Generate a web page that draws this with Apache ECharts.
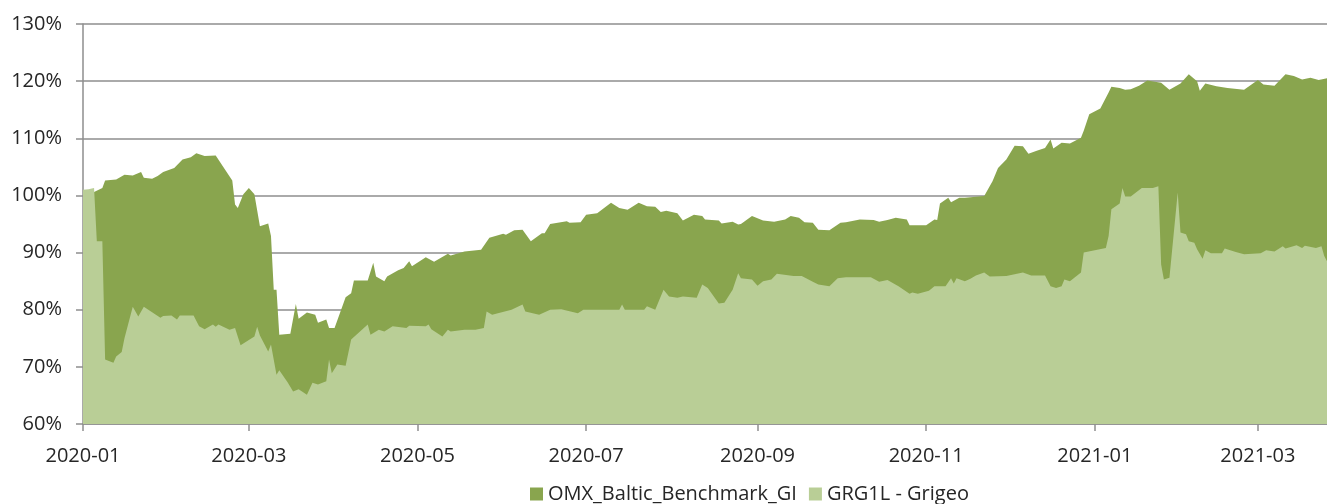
<!DOCTYPE html>
<html>
<head>
<meta charset="utf-8">
<script src="https://cdn.jsdelivr.net/npm/echarts@6/dist/echarts.min.js"></script>
<style>
html,body{margin:0;padding:0;background:#fff;}
#chart{width:1327px;height:504px;}
</style>
</head>
<body>
<div id="chart"></div>
<script>
const seriesNames = ['OMX_Baltic_Benchmark_GI', 'GRG1L - Grigeo'];

const omxDates = ['2020-01-01','2020-01-05','2020-01-08','2020-01-09','2020-01-13','2020-01-16','2020-01-19','2020-01-22','2020-01-23','2020-01-26','2020-01-28','2020-01-30','2020-02-03','2020-02-06','2020-02-09','2020-02-11','2020-02-14','2020-02-18','2020-02-24','2020-02-25','2020-02-26','2020-02-28','2020-03-01','2020-03-03','2020-03-05','2020-03-08','2020-03-09','2020-03-10','2020-03-11','2020-03-12','2020-03-16','2020-03-18','2020-03-19','2020-03-22','2020-03-25','2020-03-26','2020-03-29','2020-03-30','2020-04-01','2020-04-05','2020-04-07','2020-04-08','2020-04-13','2020-04-15','2020-04-16','2020-04-19','2020-04-20','2020-04-24','2020-04-26','2020-04-28','2020-04-29','2020-05-04','2020-05-07','2020-05-12','2020-05-13','2020-05-18','2020-05-24','2020-05-27','2020-06-01','2020-06-02','2020-06-05','2020-06-08','2020-06-11','2020-06-15','2020-06-16','2020-06-18','2020-06-24','2020-06-25','2020-06-29','2020-07-01','2020-07-05','2020-07-10','2020-07-13','2020-07-16','2020-07-20','2020-07-23','2020-07-26','2020-07-28','2020-07-30','2020-08-03','2020-08-05','2020-08-09','2020-08-12','2020-08-13','2020-08-18','2020-08-19','2020-08-23','2020-08-25','2020-08-26','2020-08-30','2020-09-03','2020-09-07','2020-09-11','2020-09-13','2020-09-16','2020-09-18','2020-09-21','2020-09-23','2020-09-27','2020-10-01','2020-10-03','2020-10-08','2020-10-13','2020-10-15','2020-10-18','2020-10-21','2020-10-25','2020-10-26','2020-11-01','2020-11-04','2020-11-05','2020-11-06','2020-11-09','2020-11-10','2020-11-13','2020-11-15','2020-11-22','2020-11-25','2020-11-27','2020-11-30','2020-12-03','2020-12-06','2020-12-08','2020-12-11','2020-12-14','2020-12-16','2020-12-17','2020-12-20','2020-12-23','2020-12-27','2020-12-28','2020-12-30','2021-01-03','2021-01-06','2021-01-07','2021-01-10','2021-01-12','2021-01-14','2021-01-17','2021-01-20','2021-01-25','2021-01-28','2021-02-01','2021-02-04','2021-02-07','2021-02-08','2021-02-10','2021-02-14','2021-02-18','2021-02-24','2021-03-01','2021-03-03','2021-03-07','2021-03-11','2021-03-14','2021-03-17','2021-03-20','2021-03-23','2021-03-26'];
const omxValues = [100.0,100.6,101.3,102.6,102.8,103.6,103.5,104.1,103.1,102.9,103.4,104.1,104.8,106.3,106.7,107.4,106.9,107.0,102.6,98.4,97.8,100.2,101.3,100.2,94.6,95.1,92.9,83.5,83.5,75.6,75.8,81.0,78.4,79.5,79.1,77.7,78.3,76.8,76.8,82.2,82.9,85.1,85.1,88.2,85.8,85.0,85.8,86.9,87.3,88.5,87.6,89.2,88.4,89.8,89.5,90.2,90.5,92.6,93.3,93.1,93.9,94.0,92.0,93.4,93.4,95.0,95.5,95.2,95.3,96.6,96.9,98.7,97.8,97.5,98.7,98.1,98.0,97.1,97.3,96.9,95.6,96.6,96.4,95.8,95.6,95.1,95.4,94.9,95.0,96.4,95.6,95.4,95.8,96.4,96.1,95.3,95.2,94.0,93.9,95.2,95.3,95.8,95.7,95.4,95.7,96.1,95.8,94.8,94.8,95.8,95.7,98.6,99.6,98.8,99.6,99.6,99.9,102.5,104.8,106.3,108.7,108.6,107.3,107.8,108.3,109.8,108.2,109.2,109.1,110.1,111.3,114.2,115.2,118.0,119.0,118.8,118.5,118.6,119.2,120.1,119.7,118.5,119.6,121.2,120.0,118.3,119.6,119.1,118.8,118.5,120.2,119.4,119.2,121.2,120.9,120.3,120.6,120.2,120.5];

const grgDates = ['2020-01-01','2020-01-03','2020-01-05','2020-01-06','2020-01-08','2020-01-09','2020-01-12','2020-01-13','2020-01-15','2020-01-16','2020-01-19','2020-01-21','2020-01-23','2020-01-29','2020-01-30','2020-02-02','2020-02-04','2020-02-05','2020-02-10','2020-02-12','2020-02-14','2020-02-17','2020-02-18','2020-02-19','2020-02-23','2020-02-25','2020-02-27','2020-03-01','2020-03-03','2020-03-04','2020-03-05','2020-03-08','2020-03-09','2020-03-11','2020-03-12','2020-03-15','2020-03-17','2020-03-19','2020-03-22','2020-03-24','2020-03-26','2020-03-29','2020-03-30','2020-03-31','2020-04-02','2020-04-05','2020-04-07','2020-04-13','2020-04-14','2020-04-17','2020-04-19','2020-04-22','2020-04-27','2020-04-28','2020-05-04','2020-05-05','2020-05-06','2020-05-10','2020-05-12','2020-05-13','2020-05-18','2020-05-22','2020-05-25','2020-05-26','2020-05-28','2020-06-04','2020-06-08','2020-06-09','2020-06-14','2020-06-18','2020-06-22','2020-06-28','2020-06-30','2020-07-13','2020-07-14','2020-07-15','2020-07-22','2020-07-23','2020-07-26','2020-07-29','2020-07-31','2020-08-03','2020-08-05','2020-08-10','2020-08-12','2020-08-14','2020-08-18','2020-08-20','2020-08-23','2020-08-25','2020-08-26','2020-08-30','2020-09-01','2020-09-03','2020-09-06','2020-09-08','2020-09-14','2020-09-17','2020-09-21','2020-09-23','2020-09-27','2020-09-30','2020-10-03','2020-10-12','2020-10-15','2020-10-18','2020-10-22','2020-10-26','2020-10-27','2020-10-29','2020-11-02','2020-11-04','2020-11-08','2020-11-10','2020-11-11','2020-11-12','2020-11-15','2020-11-17','2020-11-19','2020-11-22','2020-11-24','2020-11-30','2020-12-06','2020-12-09','2020-12-14','2020-12-16','2020-12-18','2020-12-20','2020-12-21','2020-12-23','2020-12-27','2020-12-28','2021-01-05','2021-01-06','2021-01-07','2021-01-10','2021-01-11','2021-01-12','2021-01-14','2021-01-18','2021-01-22','2021-01-24','2021-01-25','2021-01-26','2021-01-28','2021-01-31','2021-02-01','2021-02-03','2021-02-04','2021-02-06','2021-02-07','2021-02-09','2021-02-10','2021-02-12','2021-02-16','2021-02-17','2021-02-21','2021-02-24','2021-03-02','2021-03-04','2021-03-07','2021-03-10','2021-03-11','2021-03-15','2021-03-17','2021-03-18','2021-03-22','2021-03-24','2021-03-25','2021-03-26'];
const grgValues = [101.0,101.1,101.3,92.0,92.0,71.3,70.7,71.8,72.6,75.0,80.5,78.8,80.5,78.6,78.9,79.0,78.3,79.0,79.0,77.1,76.6,77.4,77.0,77.4,76.5,76.8,73.8,74.7,75.3,77.0,75.5,72.7,73.9,68.6,69.4,67.3,65.7,66.1,65.1,67.2,66.9,67.5,71.3,68.9,70.4,70.2,74.8,77.4,75.6,76.5,76.2,77.1,76.8,77.2,77.1,77.4,76.6,75.3,76.5,76.2,76.5,76.5,76.8,79.7,79.1,80.0,80.9,79.7,79.1,80.0,80.1,79.4,80.0,80.0,80.9,80.0,80.0,80.6,80.0,83.5,82.3,82.1,82.3,82.1,84.4,83.8,81.1,81.2,83.5,86.4,85.5,85.3,84.2,85.0,85.3,86.3,85.9,85.9,84.9,84.4,84.1,85.5,85.7,85.7,84.9,85.2,84.1,82.8,83.0,82.8,83.3,84.1,84.1,85.5,84.6,85.5,85.0,85.4,86.0,86.5,85.8,85.9,86.5,86.0,86.0,84.1,83.8,84.1,85.3,85.0,86.5,90.0,90.8,92.9,97.6,98.6,101.3,99.8,99.8,101.3,101.3,101.6,87.9,85.3,85.6,100.5,93.5,93.2,92.0,91.7,90.6,88.9,90.4,89.9,89.9,90.7,90.1,89.7,89.9,90.4,90.2,91.1,90.7,91.3,90.8,91.2,90.8,91.1,89.4,88.5];

const xTickDates = ['2020-01-01','2020-03-01','2020-05-01','2020-07-01','2020-09-01','2020-11-01','2021-01-01','2021-03-01'];
const yTicks = [60, 70, 80, 90, 100, 110, 120, 130];

const P = s => echarts.number.parseDate(s).getTime();
const FONT = '"Open Sans", "Noto Sans", sans-serif';
const FS = 20;
const TXT = '#262626';
const GRID = '#8e8e8e';
const pad2 = n => (n < 10 ? '0' : '') + n;
const fmtMonth = v => { const d = new Date(v); return d.getFullYear() + '-' + pad2(d.getMonth() + 1); };

const chart = echarts.init(document.getElementById('chart'), null, {renderer: 'canvas'});
chart.setOption({
  animation: false,
  backgroundColor: '#ffffff',
  textStyle: {fontFamily: FONT},
  grid: {left: 83, right: 0, top: 24, bottom: 80, containLabel: false},
  legend: {
    left: 525, top: 479,
    itemWidth: 13, itemHeight: 13, itemGap: 12,
    icon: 'rect',
    textStyle: {fontFamily: FONT, fontSize: FS, color: TXT},
    data: seriesNames
  },
  xAxis: {
    type: 'value',
    min: P('2020-01-01'),
    max: P('2021-03-26'),
    axisLine: {show: true, lineStyle: {color: GRID, width: 1.5}},
    axisTick: {show: true, length: 7, lineStyle: {color: GRID, width: 1.5}, customValues: xTickDates.map(P)},
    axisLabel: {
      customValues: xTickDates.map(P),
      formatter: fmtMonth,
      fontFamily: FONT, fontSize: FS, color: TXT, margin: 22,
      showMinLabel: true, showMaxLabel: true, hideOverlap: false
    },
    splitLine: {show: false}
  },
  yAxis: {
    type: 'value',
    min: yTicks[0], max: yTicks[yTicks.length - 1], interval: 10,
    axisLine: {show: true, lineStyle: {color: GRID, width: 1.5}},
    axisTick: {show: true, length: 7, inside: false, lineStyle: {color: GRID, width: 1.5}},
    axisLabel: {formatter: '{value}%', fontFamily: FONT, fontSize: FS, color: TXT, margin: 21},
    splitLine: {show: true, lineStyle: {color: GRID, width: 1.5}}
  },
  series: [
    {
      name: seriesNames[0], type: 'line',
      data: omxDates.map((d, i) => [P(d), omxValues[i]]),
      showSymbol: false, symbol: 'none',
      lineStyle: {width: 0},
      itemStyle: {color: '#89a54e'},
      areaStyle: {color: '#89a54e', opacity: 1},
      z: 2
    },
    {
      name: seriesNames[1], type: 'line',
      data: grgDates.map((d, i) => [P(d), grgValues[i]]),
      showSymbol: false, symbol: 'none',
      lineStyle: {width: 0},
      itemStyle: {color: '#b9ce96'},
      areaStyle: {color: '#b9ce96', opacity: 1},
      z: 3
    }
  ]
});
</script>
</body>
</html>
